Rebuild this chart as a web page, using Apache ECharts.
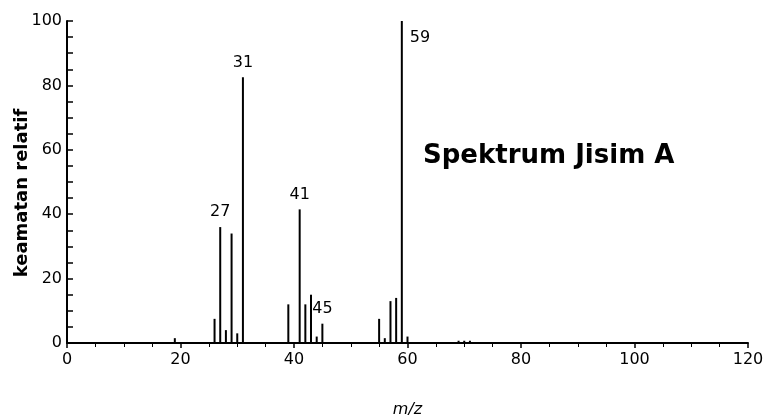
<!DOCTYPE html>
<html>
<head>
<meta charset="utf-8">
<script src="https://cdn.jsdelivr.net/npm/echarts@6/dist/echarts.min.js"></script>
<style>html,body{margin:0;padding:0;background:#fff}#c{width:765px;height:419px}</style>
</head>
<body>
<div id="c"></div>
<script>
var mz = [19, 26, 27, 28, 29, 30, 31, 39, 41, 42, 43, 44, 45, 55, 56, 57, 58, 59, 60, 69, 70, 71];
var intensity = [1.5, 7.5, 36, 4, 34, 3, 82.5, 12, 41.5, 12, 15, 2, 6, 7.5, 1.5, 13, 14, 100, 2, 0.7, 0.7, 0.7];
var labelledPeaks = [27, 31, 41, 45, 59];
var xTicks = [0, 20, 40, 60, 80, 100, 120];
var yTicks = [0, 20, 40, 60, 80, 100];
var titleText = 'Spektrum Jisim A';
var xName = 'm/z';
var yName = 'keamatan relatif';

var font = 'DejaVu Sans';
var data = mz.map(function (m, i) {
  var item = { value: [m, intensity[i]] };
  if (labelledPeaks.indexOf(m) >= 0) {
    if (m === 59) {
      item.label = { show: true, position: [9, 17], align: 'left', verticalAlign: 'middle', formatter: String(m) };
    } else {
      item.label = { show: true, position: 'top', distance: 7, formatter: String(m) };
    }
  }
  return item;
});

var chart = echarts.init(document.getElementById('c'));
chart.setOption({
  animation: false,
  backgroundColor: '#fff',
  title: {
    text: titleText,
    left: 418, top: 138,
    textStyle: { fontFamily: font, fontWeight: 'bold', fontSize: 26, color: '#000' }
  },
  grid: { left: 67, right: 17, top: 21, bottom: 76, containLabel: false, outerBoundsMode: 'none' },
  xAxis: {
    type: 'value', min: xTicks[0], max: xTicks[xTicks.length - 1], interval: 20,
    name: xName, nameLocation: 'middle', nameGap: 59, nameMoveOverlap: false,
    nameTextStyle: { fontFamily: font, fontStyle: 'italic', fontSize: 16, color: '#000' },
    axisLine: { lineStyle: { color: '#000', width: 2 } },
    axisTick: { show: true, inside: false, length: 5, lineStyle: { color: '#000', width: 1.5 } },
    minorTick: { show: true, splitNumber: 4, length: 4, lineStyle: { color: '#000', width: 1 } },
    splitLine: { show: false },
    axisLabel: { fontFamily: font, fontSize: 16, color: '#000', margin: 9 }
  },
  yAxis: {
    type: 'value', min: yTicks[0], max: yTicks[yTicks.length - 1], interval: 20,
    name: yName, nameLocation: 'middle', nameGap: 36, nameMoveOverlap: false,
    nameTextStyle: { fontFamily: font, fontWeight: 'bold', fontSize: 18, color: '#000', padding: [0, 22, 0, 0] },
    axisLine: { show: true, lineStyle: { color: '#000', width: 2 } },
    axisTick: { show: true, inside: true, length: 6, lineStyle: { color: '#000', width: 1.5 } },
    minorTick: { show: true, splitNumber: 4, length: 6, lineStyle: { color: '#000', width: 1.5 } },
    splitLine: { show: false },
    axisLabel: { fontFamily: font, fontSize: 16, color: '#000', margin: 5 }
  },
  series: [{
    type: 'bar',
    barWidth: 2,
    itemStyle: { color: '#000' },
    label: { fontFamily: font, fontSize: 16, color: '#000' },
    data: data
  }]
});
</script>
</body>
</html>
